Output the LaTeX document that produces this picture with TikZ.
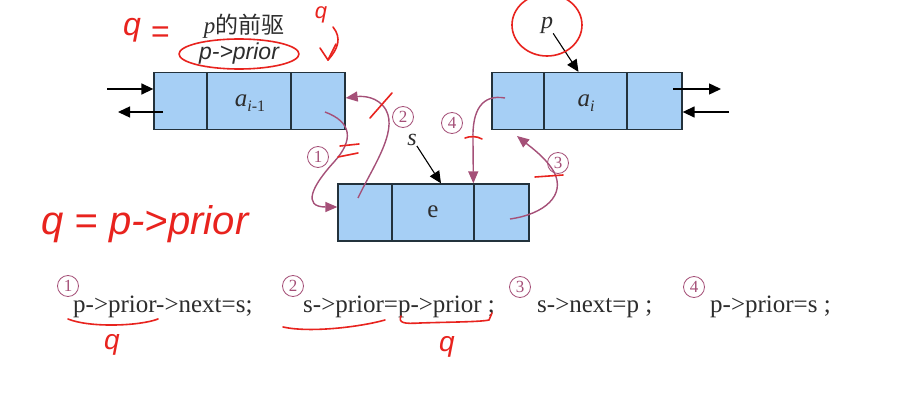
\documentclass[tikz,border=0pt]{standalone}
\usepackage{fontspec}
\setmainfont{Liberation Serif}
\newfontfamily\cjk{Noto Sans CJK SC}
\newfontfamily\sansf{Liberation Sans}
\usetikzlibrary{arrows.meta,calc}
\definecolor{cellfill}{RGB}{166,207,245}
\definecolor{cellline}{RGB}{35,50,60}
\definecolor{mauve}{RGB}{165,80,120}
\definecolor{ink}{RGB}{232,35,30}
\definecolor{txt}{RGB}{45,45,45}
\tikzset{
  cell/.style={draw=cellline, fill=cellfill, line width=1.3pt, inner sep=0pt, minimum height=57pt},
  blk/.style={-{Triangle[length=12pt,width=11pt]}, line width=1.4pt, black},
  mv/.style={-{Triangle[length=12pt,width=10pt]}, mauve, line width=1.4pt},
  circnum/.style={circle, draw=mauve, text=mauve, line width=0.8pt, inner sep=0pt, minimum size=21pt, font=\fontsize{17}{17}\selectfont},
  pen/.style={draw=ink, line width=1.6pt, line cap=round, line join=round},
  hand/.style={text=ink, font=\sansf\itshape\fontsize{28}{28}\selectfont, inner sep=0pt},
  lbl/.style={text=txt, inner sep=0pt, font=\fontsize{25}{25}\selectfont},
  code/.style={text=txt, inner sep=0pt, anchor=base west, font=\fontsize{25}{25}\selectfont},
}
\begin{document}
\begin{tikzpicture}[x=1pt,y=-1pt]
\useasboundingbox (0,0) rectangle (898,404);
\fill[white] (0,0) rectangle (898,404);
% left node
\node[cell, minimum width=53pt] (L1) at (180.5,101) {};
\node[cell, minimum width=84pt] (L2) at (249,101) {};
\node[cell, minimum width=54pt] (L3) at (318,101) {};
% right node
\node[cell, minimum width=52pt] (R1) at (518,101) {};
\node[cell, minimum width=83pt] (R2) at (585.5,101) {};
\node[cell, minimum width=55pt] (R3) at (654.5,101) {};
% middle node
\node[cell, minimum width=54pt] (M1) at (365,212.5) {};
\node[cell, minimum width=82pt] (M2) at (433,212.5) {};
\node[cell, minimum width=55pt] (M3) at (501.5,212.5) {};
% cell labels
\node[lbl] (aim) at (250,103) {\itshape a\raisebox{-5pt}{\fontsize{16}{16}\selectfont i\upshape-1}};
\node[lbl] (ai) at (586,103) {\itshape a\raisebox{-5pt}{\fontsize{16}{16}\selectfont i}};
\node[lbl] (e) at (433,212) {e};
% pointer labels
\node[lbl, font=\fontsize{24}{24}\selectfont] (pl) at (547,25) {\itshape p};
\node[lbl, font=\fontsize{24}{24}\selectfont] (sl) at (412,140) {\itshape s};
\draw[blk, line width=1.1pt] (pl.south east) -- ([xshift=-7pt]R2.north);
\draw[blk, line width=1.1pt] (sl.south east) -- ([xshift=8pt]M2.north);
\node[text=txt, inner sep=0pt, font=\fontsize{23}{23}\selectfont] (pre) at (244,26) {\itshape p\upshape{\cjk 的前驱}};
\node[text=txt, inner sep=0pt, font=\sansf\itshape\fontsize{23}{23}\selectfont] (ppr) at (239,54) {p->prior};
% outer links
\coordinate (inL) at (107,89);
\coordinate (outLs) at (163,112);
\coordinate (outL) at (118,112);
\draw[blk] (inL) -- (inL -| L1.west);
\draw[blk] (outLs) -- (outL);
\coordinate (outRs) at (673,89);
\coordinate (outR) at (721,89);
\coordinate (inR) at (729,112);
\draw[blk] (outRs) -- (outR);
\draw[blk] (inR) -- (inR -| R3.east);
% mauve link arrows
\coordinate (s1) at (325,112);
\coordinate (t1) at (M1.west |- 0,207);
\draw[mv] (s1) .. controls (352,122) and (354,140) .. (334,162) .. controls (312,186) and (302,207) .. (t1);
\coordinate (s2) at (358,198);
\coordinate (t2) at (L3.east |- 0,98);
\draw[mv] (s2) .. controls (372,168) and (398,132) .. (386,110) .. controls (378,96) and (362,96) .. (t2);
\coordinate (s3) at (510,219);
\coordinate (t3) at (517,136);
\draw[mv] (s3) .. controls (545,214) and (566,195) .. (554,172) .. controls (546,158) and (532,148) .. (t3);
\coordinate (s4) at (505,98);
\coordinate (t4) at (M3.north west);
\draw[mv] (s4) .. controls (482,94) and (472,110) .. (473,140) -- (t4);
% circled numbers near arrows
\node[circnum] (c1) at (318,157) {1};
\node[circnum] (c2) at (403,117) {2};
\node[circnum] (c3) at (558,163) {3};
\node[circnum] (c4) at (452,123) {4};
% code lines
\node[circnum] (b1) at (68,286) {1};
\node[code] (k1) at (73,312) {p->prior->next=s;};
\node[circnum] (b2) at (293,286) {2};
\node[code] (k2) at (303,312) {s->prior=p->prior ;};
\node[circnum] (b3) at (520,287) {3};
\node[code] (k3) at (537,312) {s->next=p ;};
\node[circnum] (b4) at (694,287) {4};
\node[code] (k4) at (710,312) {p->prior=s ;};
% red handwriting
\node[hand, font=\sansf\itshape\fontsize{32}{32}\selectfont] (h1) at (132,30) {q};
\node[hand, font=\sansf\itshape\fontsize{32}{32}\selectfont] (h1e) at (160,35) {=};
\draw[pen] (ppr) ellipse [x radius=60, y radius=15];
\node[hand, font=\sansf\itshape\fontsize{22}{22}\selectfont] (h2) at (321,15) {q};
\draw[pen] (333,27) .. controls (342,38) and (338,49) .. (328,60);
\draw[pen] (320,48) -- (328,60) -- (336,44);
\draw[pen] (pl) ellipse [x radius=35, y radius=31];
\draw[pen] (370,118) -- (392,93);
\draw[pen] (340,146) -- (359,144);
\draw[pen] (338,157) -- (358,153);
\draw[pen] (465,138) .. controls (470,136) and (477,136) .. (482,139);
\draw[pen] (535,177) -- (563,175);
\node[hand, font=\sansf\itshape\fontsize{40}{40}\selectfont] (h3) at (145,224) {q = p->prior};
\draw[pen] (68,319) .. controls (90,328) and (140,326) .. (158,319);
\node[hand] (h4) at (112,345) {q};
\draw[pen] (283,327) .. controls (310,333) and (360,327) .. (385,320);
\draw[pen] (401,316) .. controls (398,323) and (404,324) .. (420,323) .. controls (450,322) and (480,322) .. (489,320) -- (492,313);
\node[hand] (h5) at (447,347) {q};
\end{tikzpicture}
\end{document}
